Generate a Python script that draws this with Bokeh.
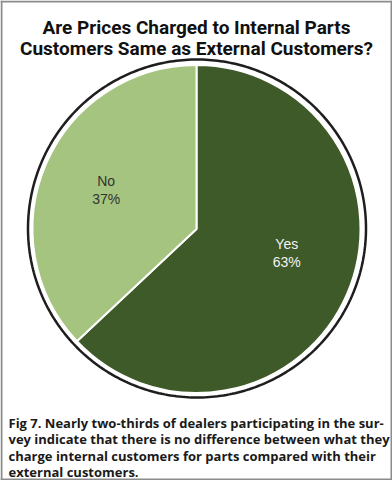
import math
from bokeh.plotting import figure
from bokeh.models import ColumnDataSource, Range1d
from bokeh.core.properties import value
from bokeh.embed import file_html
from bokeh.resources import INLINE

# ---- data ----
categories = ["Yes", "No"]
percents = [63, 37]
colors = ["#3e5a28", "#a4c47f"]
label_colors = ["#f2f2f2", "#333333"]
title_lines = ["Are Prices Charged to Internal Parts",
               "Customers Same as External Customers?"]
caption_lines = [
    "Fig 7. Nearly two-thirds of dealers participating in the sur-",
    "vey indicate that there is no difference between what they",
    "charge internal customers for parts compared with their",
    "external customers.",
]

W, H = 392, 480
p = figure(width=W, height=H, output_backend="svg", toolbar_location=None,
           x_range=Range1d(0, W), y_range=Range1d(0, H), min_border=0)
p.axis.visible = False
p.grid.visible = False
p.outline_line_color = None
p.background_fill_color = "white"
p.border_fill_color = "white"

# gray frame border as four filled strips
B = 2
border_src = ColumnDataSource(dict(left=[0, W - B, 0, 0], right=[B, W, W, W],
                                   bottom=[0, 0, 0, H - B], top=[H, H, B, H]))
p.quad(left="left", right="right", bottom="bottom", top="top",
       source=border_src, fill_color="#8c8c8c", line_color=None)

cx, cy, R = 196, H - 228.5, 164

# shadow ring as a closed polyline around the pie
n = 360
ring_x = [cx + 0.5 + (R + 5) * math.cos(2 * math.pi * k / n) for k in range(n + 1)]
ring_y = [cy + 0.5 + (R + 5) * math.sin(2 * math.pi * k / n) for k in range(n + 1)]
ring_src = ColumnDataSource(dict(x=ring_x, y=ring_y))
p.line(x="x", y="y", source=ring_src, line_color="#1e1e1e", line_width=2.5)

# pie wedges: start at 12 o'clock, clockwise
total = sum(percents)
starts, ends, lx, ly = [], [], [], []
nudge_y = {"Yes": 15, "No": 0}
acc = 0.0
for c, v in zip(categories, percents):
    a0 = math.pi / 2 - 2 * math.pi * acc / total
    a1 = math.pi / 2 - 2 * math.pi * (acc + v) / total
    starts.append(a1)
    ends.append(a0)
    mid = (a0 + a1) / 2
    lx.append(cx + 0.6 * R * math.cos(mid))
    ly.append(cy + 0.6 * R * math.sin(mid) + nudge_y[c])
    acc += v

src = ColumnDataSource(dict(start=starts, end=ends, color=colors,
                            lx=lx, ly=ly, lc=label_colors,
                            name=[f"{c}\n{v}%" for c, v in zip(categories, percents)]))
p.wedge(x=cx, y=cy, radius=R, start_angle="start", end_angle="end",
        fill_color="color", line_color="white", line_width=2, source=src)

p.text(x="lx", y="ly", text="name", text_color="lc", source=src,
       text_font=value("Liberation Sans"), text_font_size="14px",
       text_align="center", text_baseline="middle", text_line_height=1.15)

# title
p.text(x=[W / 2] * 2, y=[H - 27, H - 48], text=title_lines,
       text_font=value("Roboto"), text_font_style="bold",
       text_font_size="19px", text_color="#111111",
       text_align="center", text_baseline="alphabetic")

# caption
p.text(x=[8] * 4, y=[H - 422, H - 438.5, H - 455, H - 471.5],
       text=caption_lines,
       text_font=value("Open Sans"), text_font_style="bold",
       text_font_size="13px", text_color="#1a1a1a",
       text_align="left", text_baseline="alphabetic")

open("out.html", "w").write(file_html(p, INLINE))
